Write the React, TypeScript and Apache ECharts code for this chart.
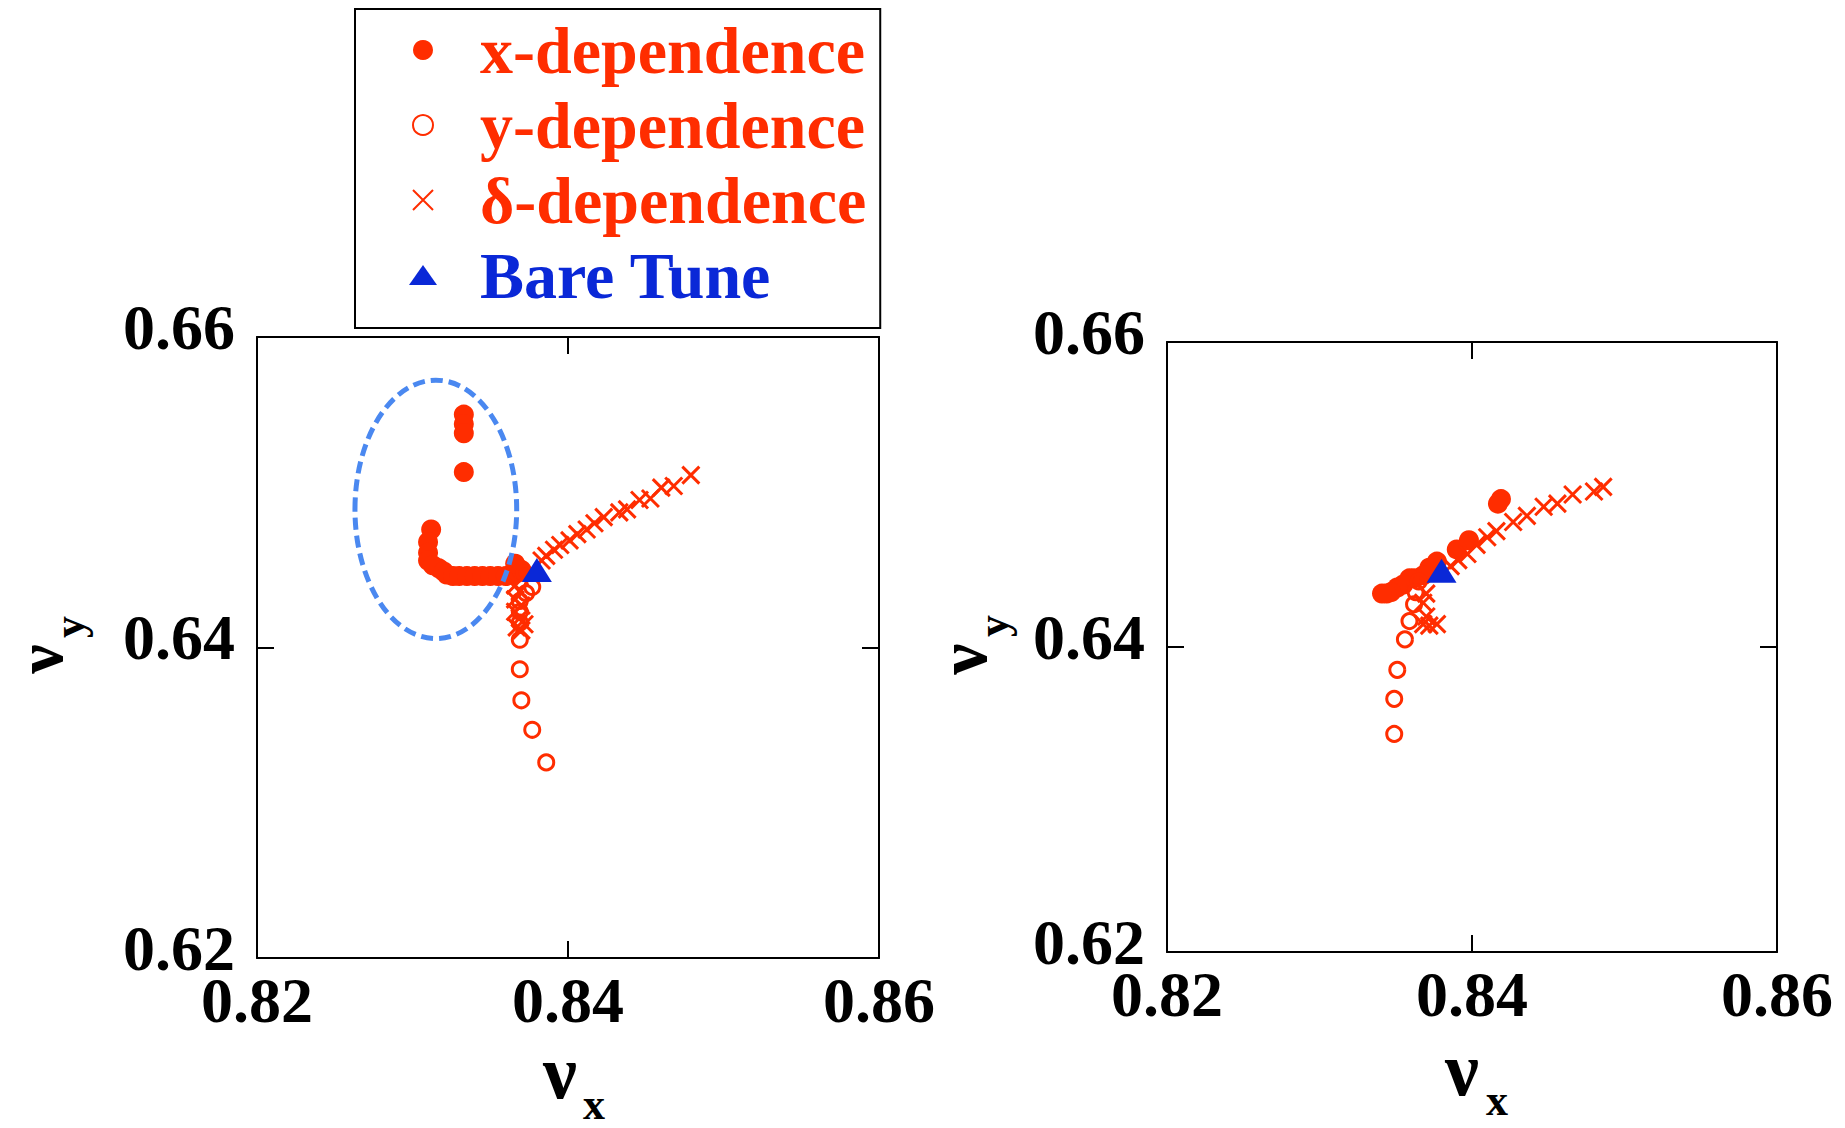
import React, { useEffect, useRef } from 'react';
import * as echarts from 'echarts';

const RED = '#ff2d00';
const BLUE = '#0a28d7';
const ELLIPSE_BLUE = '#4a88f0';
const FONT = '"Liberation Serif", "Times New Roman", serif';

const xRange = [0.82, 0.86];
const yRange = [0.62, 0.66];
const tickStep = 0.02;

const seriesNames = ['x-dependence', 'y-dependence', 'δ-dependence', 'Bare Tune'];

// Left panel
const leftXDep = [
  [0.8333, 0.6550], [0.8333, 0.6544], [0.8333, 0.6538], [0.8333, 0.6513],
  [0.8312, 0.6476], [0.8310, 0.6468], [0.8310, 0.6461], [0.8310, 0.6456],
  [0.8313, 0.6453], [0.8317, 0.6451], [0.8320, 0.6449], [0.8322, 0.6447],
  [0.8326, 0.6446], [0.8330, 0.6446], [0.8335, 0.6446], [0.8340, 0.6446],
  [0.8345, 0.6446], [0.8350, 0.6446], [0.8355, 0.6446], [0.8360, 0.6446],
  [0.8364, 0.6447], [0.8367, 0.6448], [0.8370, 0.6450], [0.8366, 0.6454],
];
const leftYDep = [
  [0.8372, 0.6448], [0.8377, 0.6439], [0.8373, 0.6435], [0.8369, 0.6430],
  [0.8369, 0.6423], [0.8369, 0.6416], [0.8369, 0.6405], [0.8369, 0.6386],
  [0.8370, 0.6366], [0.8377, 0.6347], [0.8386, 0.6326],
];
const leftDeltaDep = [
  [0.8479, 0.6511], [0.8468, 0.6504], [0.8460, 0.6503], [0.8453, 0.6496],
  [0.8446, 0.6495], [0.8438, 0.6489], [0.8433, 0.6487], [0.8423, 0.6484],
  [0.8417, 0.6480], [0.8412, 0.6476], [0.8406, 0.6473], [0.8401, 0.6469],
  [0.8395, 0.6466], [0.8391, 0.6463], [0.8386, 0.6459], [0.8383, 0.6456],
  [0.8366, 0.6440], [0.8369, 0.6436], [0.8366, 0.6431], [0.8370, 0.6427],
  [0.8366, 0.6423], [0.8369, 0.6419], [0.8372, 0.6415], [0.8367, 0.6413],
  [0.8370, 0.6411],
];
const leftBareTune = [[0.838, 0.645]];
// ellipse annotation: centre x, centre y, radius x, radius y (data units)
const leftEllipse = [[0.8315, 0.6489, 0.0052, 0.00832]];

// Right panel
const rightXDep = [
  [0.8419, 0.6497], [0.8417, 0.6494], [0.8398, 0.6470], [0.8390, 0.6464],
  [0.8377, 0.6456], [0.8372, 0.6452], [0.8368, 0.6447], [0.8362, 0.6445],
  [0.8359, 0.6445], [0.8355, 0.6441], [0.8351, 0.6439], [0.8347, 0.6436],
  [0.8344, 0.6435], [0.8341, 0.6435],
];
const rightYDep = [
  [0.8365, 0.6443], [0.8363, 0.6436], [0.8362, 0.6428], [0.8359, 0.6417],
  [0.8356, 0.6405], [0.8351, 0.6385], [0.8349, 0.6366], [0.8349, 0.6343],
];
const rightDeltaDep = [
  [0.8486, 0.6505], [0.8480, 0.6502], [0.8466, 0.6500], [0.8456, 0.6494],
  [0.8447, 0.6492], [0.8436, 0.6486], [0.8427, 0.6482], [0.8416, 0.6476],
  [0.8410, 0.6472], [0.8403, 0.6467], [0.8397, 0.6461], [0.8391, 0.6457],
  [0.8386, 0.6453], [0.8370, 0.6435], [0.8368, 0.6429], [0.8370, 0.6420],
  [0.8368, 0.6415], [0.8372, 0.6414], [0.8377, 0.6415],
];
const rightBareTune = [[0.838, 0.645]];

const CROSS = 'path://M0,0L10,10M10,0L0,10';

function makeAxes(gridIndex: number, kind: 'x' | 'y') {
  const range = kind === 'x' ? xRange : yRange;
  const common = {
    type: 'value',
    gridIndex,
    min: range[0],
    max: range[1],
    interval: tickStep,
    splitLine: { show: false },
    axisLine: { onZero: false, lineStyle: { color: '#000', width: 2 } },
    axisTick: { inside: true, length: 17, lineStyle: { color: '#000', width: 2 } },
  };
  const main = {
    ...common,
    position: kind === 'x' ? 'bottom' : 'left',
    axisLabel: kind === 'x'
      ? {
          show: true,
          fontFamily: FONT,
          fontWeight: 'bold',
          fontSize: 64,
          color: '#000',
          margin: 10,
          formatter: (v: number) => v.toFixed(2),
        }
      : {
          show: true,
          fontFamily: FONT,
          fontWeight: 'bold',
          fontSize: 64,
          lineHeight: 20,
          verticalAlign: 'bottom',
          color: '#000',
          margin: 22,
          formatter: (v: number) => v.toFixed(2),
        },
  };
  const opp = {
    ...common,
    position: kind === 'x' ? 'top' : 'right',
    axisLabel: { show: false },
  };
  return [main, opp];
}

function scatterSet(xi: number, yi: number, xd: number[][], yd: number[][], dd: number[][], bt: number[][]) {
  return [
    {
      name: seriesNames[0], type: 'scatter', xAxisIndex: xi, yAxisIndex: yi, data: xd,
      symbol: 'circle', symbolSize: 20, itemStyle: { color: RED, opacity: 1 }, z: 2,
    },
    {
      name: seriesNames[1], type: 'scatter', xAxisIndex: xi, yAxisIndex: yi, data: yd,
      symbol: 'circle', symbolSize: 15,
      itemStyle: { color: 'rgba(255,255,255,0)', borderColor: RED, borderWidth: 3, opacity: 1 }, z: 3,
    },
    {
      name: seriesNames[2], type: 'scatter', xAxisIndex: xi, yAxisIndex: yi, data: dd,
      symbol: CROSS, symbolSize: 17,
      itemStyle: { color: RED, borderColor: RED, borderWidth: 3, opacity: 1 }, z: 4,
    },
    {
      name: seriesNames[3], type: 'scatter', xAxisIndex: xi, yAxisIndex: yi, data: bt,
      symbol: 'triangle', symbolSize: [30, 24], itemStyle: { color: BLUE, opacity: 1 }, z: 6,
    },
  ];
}

function nameText(x: number, y: number, text: string, size: number, lh: number, rotate: boolean) {
  return {
    type: 'text',
    x,
    y,
    rotation: rotate ? Math.PI / 2 : 0,
    style: {
      text,
      fontFamily: FONT,
      fontWeight: 'bold',
      fontSize: size,
      lineHeight: lh,
      fill: '#000',
      align: 'center',
      verticalAlign: 'middle',
    },
  };
}

export default function App() {
  const ref = useRef<HTMLDivElement>(null);
  useEffect(() => {
    if (!ref.current) return;
    const chart = echarts.init(ref.current, undefined, { renderer: 'svg' });
    const [x0, x0t] = makeAxes(0, 'x');
    const [x1, x1t] = makeAxes(1, 'x');
    const [y0, y0r] = makeAxes(0, 'y');
    const [y1, y1r] = makeAxes(1, 'y');
    const option: any = {
      animation: false,
      backgroundColor: '#fff',
      grid: [
        { left: 257, top: 337, width: 622, height: 621 },
        { left: 1167, top: 342, width: 610, height: 610 },
      ],
      xAxis: [x0, x0t, x1, x1t],
      yAxis: [y0, y0r, y1, y1r],
      legend: {
        orient: 'vertical',
        left: 355,
        top: 9,
        padding: [8, 14, 20, 54],
        itemGap: 9,
        itemWidth: 28,
        itemHeight: 20,
        borderColor: '#000',
        borderWidth: 2,
        backgroundColor: '#fff',
        selectedMode: false,
        textStyle: {
          fontFamily: FONT,
          fontWeight: 'bold',
          fontSize: 66,
          lineHeight: 66,
          padding: [0, 0, 0, 38],
        },
        data: [
          { name: seriesNames[0], textStyle: { color: RED } },
          { name: seriesNames[1], textStyle: { color: RED } },
          { name: seriesNames[2], textStyle: { color: RED } },
          { name: seriesNames[3], textStyle: { color: BLUE } },
        ],
      },
      series: [
        ...scatterSet(0, 0, leftXDep, leftYDep, leftDeltaDep, leftBareTune),
        ...scatterSet(2, 2, rightXDep, rightYDep, rightDeltaDep, rightBareTune),
        {
          name: 'region',
          type: 'custom',
          xAxisIndex: 0,
          yAxisIndex: 0,
          data: leftEllipse,
          z: 8,
          silent: true,
          renderItem: (_p: any, api: any) => {
            const c = api.coord([api.value(0), api.value(1)]);
            const s = api.size([api.value(2), api.value(3)]);
            return {
              type: 'ellipse',
              shape: { cx: c[0], cy: c[1], rx: s[0], ry: s[1] },
              style: { fill: 'none', stroke: ELLIPSE_BLUE, lineWidth: 5, lineDash: [12, 6] },
            };
          },
        },
      ],
      graphic: [
        nameText(560, 1072, 'ν', 76, 40, false),
        nameText(594, 1104, 'x', 44, 28, false),
        nameText(1462, 1069, 'ν', 76, 40, false),
        nameText(1497, 1100, 'x', 44, 28, false),
        nameText(39, 659, 'ν', 66, 40, true),
        nameText(69, 627, 'y', 44, 28, true),
        nameText(962, 659, 'ν', 70, 40, true),
        nameText(993, 626, 'y', 44, 28, true),
      ],
    };
    chart.setOption(option);
    return () => chart.dispose();
  }, []);
  return (
    <div
      ref={ref}
      style={{ position: 'fixed', left: 0, top: 0, width: 1845, height: 1128, background: '#fff' }}
    />
  );
}
